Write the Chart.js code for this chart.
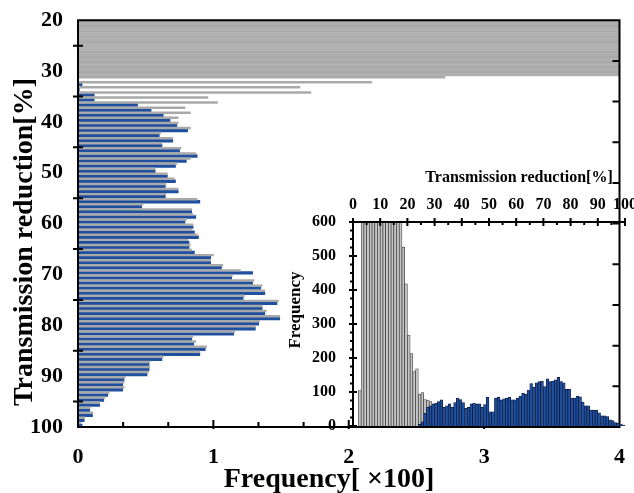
<!DOCTYPE html>
<html>
<head>
<meta charset="utf-8">
<script src="https://cdn.jsdelivr.net/npm/chart.js@4.4.0/dist/chart.umd.min.js"></script>
<style>
    html, body { margin: 0; padding: 0; background: #fff; overflow: hidden; }
    #quadro { position: relative; width: 634px; height: 493px; }
    #principal { position: absolute; left: 0; top: 0; }
    #detalhe { position: absolute; left: 280px; top: 160px; }
</style>
</head>
<body>
<div id="quadro">
    <canvas id="principal" width="634" height="493"></canvas>
    <canvas id="detalhe" width="380" height="333"></canvas>
</div>
<script>
// gráfico principal: faixas de 1% da redução de transmissão
const faixasPrincipal = [
    20, 21, 22, 23, 24, 25, 26, 27, 28, 29, 30, 31, 32, 33, 34, 35, 36, 37, 38, 39,
    40, 41, 42, 43, 44, 45, 46, 47, 48, 49, 50, 51, 52, 53, 54, 55, 56, 57, 58, 59,
    60, 61, 62, 63, 64, 65, 66, 67, 68, 69, 70, 71, 72, 73, 74, 75, 76, 77, 78, 79,
    80, 81, 82, 83, 84, 85, 86, 87, 88, 89, 90, 91, 92, 93, 94, 95, 96, 97, 98, 99
];
// frequência [x100]; as faixas 20-30 passam do limite do eixo
const freqCinzaPrincipal = [
    5, 5, 5, 5, 5, 5, 5, 5, 5, 5, 5,
    2.71, 2.17, 1.64, 1.72, 0.96, 1.03, 0.79, 0.83, 0.74, 0.74,
    0.83, 0.61, 0.70, 0.62, 0.76, 0.87, 0.83, 0.73, 0.57, 0.66,
    0.71, 0.65, 0.74, 0.65, 0.88, 0.48, 0.84, 0.85, 0.80, 0.85,
    0.84, 0.88, 0.81, 0.83, 0.84, 1.00, 0.98, 1.07, 1.20, 1.14,
    1.30, 1.36, 1.38, 1.23, 1.48, 1.36, 1.39, 1.49, 1.34, 1.31,
    1.16, 0.85, 0.87, 0.95, 0.90, 0.63, 0.53, 0.53, 0.52, 0.35,
    0.34, 0.34, 0.23, 0.20, 0.16, 0.09, 0.11, 0.05, 0.02
];
const freqAzulPrincipal = [
    5, 5, 5, 5, 5, 5, 5, 5, 5, 5, 5,
    0, 0.03, 0.01, 0.12, 0.12, 0.44, 0.54, 0.63, 0.68, 0.73,
    0.81, 0.60, 0.70, 0.62, 0.75, 0.88, 0.80, 0.72, 0.57, 0.66,
    0.72, 0.645, 0.74, 0.645, 0.90, 0.47, 0.84, 0.87, 0.79, 0.85,
    0.86, 0.89, 0.82, 0.82, 0.86, 0.98, 0.98, 1.06, 1.29, 1.135,
    1.29, 1.35, 1.38, 1.22, 1.47, 1.36, 1.38, 1.49, 1.335, 1.31,
    1.15, 0.84, 0.855, 0.94, 0.90, 0.62, 0.525, 0.525, 0.51, 0.34,
    0.33, 0.33, 0.22, 0.19, 0.16, 0.087, 0.107, 0.046, 0.03
];
const limiteCinza = 31; // abaixo desta faixa as duas séries aparecem em cinza

// detalhe: histograma vertical
const faixasCinzaDetalhe = [
    2, 3, 4, 5, 6, 7, 8, 9, 10, 11, 12, 13, 14, 15, 16, 17, 18, 19, 20, 21,
    22, 23, 24, 25, 26, 27, 28
];
const freqCinzaDetalhe = [
    106, 700, 700, 700, 700, 700, 700, 700, 700, 700, 700, 700, 700, 700, 700, 700,
    526, 418, 267, 213, 160, 168, 94, 98, 78, 76, 72
];
const faixasAzulDetalhe = [
    24, 25, 26, 27, 28, 29, 30, 31, 32, 33, 34, 35, 36, 37, 38, 39,
    40, 41, 42, 43, 44, 45, 46, 47, 48, 49, 50, 51, 52, 53, 54, 55, 56, 57, 58, 59,
    60, 61, 62, 63, 64, 65, 66, 67, 68, 69, 70, 71, 72, 73, 74, 75, 76, 77, 78, 79,
    80, 81, 82, 83, 84, 85, 86, 87, 88, 89, 90, 91, 92, 93, 94, 95, 96, 97, 98, 99
];
const freqAzulDetalhe = [
    5, 12, 37, 55, 59, 65,
    67, 72, 77, 55, 59, 65, 55, 69, 82, 78,
    69, 52, 55, 65, 67, 65, 65, 55, 63, 84,
    42, 42, 82, 84, 77, 80, 82, 84, 77, 77,
    82, 88, 96, 94, 106, 125, 114, 127, 131, 132,
    116, 139, 131, 132, 136, 143, 131, 127, 108, 108,
    82, 82, 88, 86, 70, 59, 59, 47, 47, 47,
    39, 30, 30, 28, 18, 16, 10, 8, 6, 3
];

// rótulos dos eixos
const marcasFrequencia = [0, 1, 2, 3, 4];
const marcasReducao = [20, 30, 40, 50, 60, 70, 80, 90, 100];
const marcasReducaoDetalhe = [0, 10, 20, 30, 40, 50, 60, 70, 80, 90, 100];
const marcasFreqDetalhe = [0, 100, 200, 300, 400, 500, 600];

const tituloY = "Transmission reduction[%]";
const tituloX = "Frequency[ ×100]";
const tituloYDetalhe = "Frequency";
const tituloXDetalhe = "Transmission reduction[%]";

const AZUL = "#1f4f9f";
const CINZA = "#a9a9a9";
const FAMILIA = "'Liberation Serif', 'Times New Roman', serif";

const moldura = {
    id: "moldura",
    afterDatasetsDraw(chart, args, opcoes) {
        const ctx = chart.ctx;
        const area = chart.chartArea;
        ctx.save();
        ctx.strokeStyle = "#000";
        ctx.lineWidth = 2;

        ctx.beginPath();
        for (const lado of opcoes.lados) {
            if (lado == "top") { ctx.moveTo(area.left - 1, area.top); ctx.lineTo(area.right + 1, area.top); }
            if (lado == "bottom") { ctx.moveTo(area.left - 1, area.bottom); ctx.lineTo(area.right + 1, area.bottom); }
            if (lado == "left") { ctx.moveTo(area.left, area.top - 1); ctx.lineTo(area.left, area.bottom + 1); }
            if (lado == "right") { ctx.moveTo(area.right, area.top - 1); ctx.lineTo(area.right, area.bottom + 1); }
        }
        ctx.stroke();

        for (const m of opcoes.marcas) {
            const escala = chart.scales[m.escala];
            ctx.beginPath();
            for (const v of m.valores) {
                const p = escala.getPixelForValue(v);
                if (m.lado == "bottom") { ctx.moveTo(p, area.bottom + m.fora); ctx.lineTo(p, area.bottom - m.dentro); }
                if (m.lado == "top") { ctx.moveTo(p, area.top - m.fora); ctx.lineTo(p, area.top + m.dentro); }
                if (m.lado == "left") { ctx.moveTo(area.left - m.fora, p); ctx.lineTo(area.left + m.dentro, p); }
                if (m.lado == "right") { ctx.moveTo(area.right + m.fora, p); ctx.lineTo(area.right - m.dentro, p); }
            }
            ctx.stroke();
        }

        ctx.fillStyle = "#000";
        for (const t of opcoes.titulos) {
            ctx.save();
            ctx.font = t.fonte;
            ctx.textAlign = "center";
            ctx.textBaseline = "alphabetic";
            ctx.translate(t.x, t.y);
            if (t.vertical) ctx.rotate(-Math.PI / 2);
            ctx.fillText(t.texto, 0, 0);
            ctx.restore();
        }
        ctx.restore();
    }
};

window.onload = aoCarregarPagina;

function aoCarregarPagina() {
    criarGraficoPrincipal(document.querySelector("#principal"));
    criarGraficoDetalhe(document.querySelector("#detalhe"));
}

function criarGraficoPrincipal(ctx) {
    const terços = [];
    for (let k = 1; k < 12; k++) {
        if (k % 3 != 0) terços.push(k / 3);
    }

    return new Chart(ctx, {
        type: "bar",
        plugins: [moldura],
        data: {
            datasets: [
                {
                    // linha cinza fina na parte de cima de cada faixa
                    data: faixasPrincipal.map((f, i) => ({ x: freqCinzaPrincipal[i], y: f + 0.2 })),
                    backgroundColor: CINZA,
                    borderWidth: 0,
                    barThickness: 1.8
                },
                {
                    data: faixasPrincipal.map((f, i) => ({ x: freqAzulPrincipal[i], y: f + 0.69 })),
                    backgroundColor: faixasPrincipal.map(f => f < limiteCinza ? "#b0b0b0" : AZUL),
                    borderWidth: 0,
                    barThickness: 2.8
                }
            ]
        },
        options: {
            indexAxis: "y",
            responsive: false,
            animation: false,
            devicePixelRatio: 1,
            grouped: false,
            layout: { padding: { top: 18, right: 6, left: 0, bottom: 0 } },
            plugins: {
                legend: { display: false },
                tooltip: { enabled: false },
                moldura: {
                    lados: ["top", "bottom", "left", "right"],
                    marcas: [
                        { escala: "y", lado: "left", valores: [25, 35, 45, 55, 65, 75, 85, 95], dentro: 5, fora: 5 },
                        { escala: "y", lado: "right", valores: [28, 36, 44, 52, 60, 68, 76, 84, 92], dentro: 7, fora: 0 },
                        { escala: "x", lado: "bottom", valores: terços, dentro: 5, fora: 0 },
                        { escala: "x", lado: "bottom", valores: [1, 2, 3], dentro: 7, fora: 2 }
                    ],
                    titulos: [
                        { texto: tituloY, x: 32, y: 242, vertical: true, fonte: "bold 28px " + FAMILIA },
                        { texto: tituloX, x: 329, y: 487, vertical: false, fonte: "bold 28px " + FAMILIA }
                    ]
                }
            },
            scales: {
                x: {
                    type: "linear",
                    min: 0,
                    max: 4,
                    afterBuildTicks: escala => { escala.ticks = marcasFrequencia.map(v => ({ value: v })); },
                    afterFit: escala => { escala.height = 66; },
                    grid: { display: false },
                    border: { display: false },
                    ticks: { color: "#000", padding: 9, font: { family: FAMILIA, weight: "bold", size: 22 } }
                },
                y: {
                    type: "linear",
                    min: 20,
                    max: 100,
                    reverse: true,
                    offset: false,
                    afterBuildTicks: escala => { escala.ticks = marcasReducao.map(v => ({ value: v })); },
                    afterFit: escala => { escala.width = 78; },
                    grid: { display: false },
                    border: { display: false },
                    ticks: { color: "#000", padding: 7, font: { family: FAMILIA, weight: "bold", size: 22 } }
                }
            }
        }
    });
}

function criarGraficoDetalhe(ctx) {
    const cincos = [];
    for (let v = 5; v < 100; v += 10) cincos.push(v);
    const quartos = [];
    for (let v = 25; v < 600; v += 25) {
        if (v % 100 != 0) quartos.push(v);
    }

    return new Chart(ctx, {
        type: "bar",
        plugins: [moldura],
        data: {
            datasets: [
                {
                    data: faixasAzulDetalhe.map((f, i) => ({ x: f + 0.5, y: freqAzulDetalhe[i] })),
                    backgroundColor: AZUL,
                    borderColor: "#0b1633",
                    borderWidth: 0.7,
                    order: 0
                },
                {
                    data: faixasCinzaDetalhe.map((f, i) => ({ x: f + 0.5, y: freqCinzaDetalhe[i] })),
                    backgroundColor: "#c4c4c4",
                    borderColor: "#3a3a3a",
                    borderWidth: 0.7,
                    order: 1
                }
            ]
        },
        options: {
            responsive: false,
            animation: false,
            devicePixelRatio: 1,
            grouped: false,
            barPercentage: 1,
            categoryPercentage: 1,
            layout: { padding: { top: 0, right: 35, left: 0, bottom: 67 } },
            plugins: {
                legend: { display: false },
                tooltip: { enabled: false },
                moldura: {
                    lados: ["top", "left"],
                    marcas: [
                        { escala: "x", lado: "top", valores: marcasReducaoDetalhe, dentro: 4, fora: 4 },
                        { escala: "x", lado: "top", valores: cincos, dentro: 3, fora: 0 },
                        { escala: "y", lado: "left", valores: marcasFreqDetalhe, dentro: 4, fora: 4 },
                        { escala: "y", lado: "left", valores: quartos, dentro: 0, fora: 3 }
                    ],
                    titulos: [
                        { texto: tituloYDetalhe, x: 20, y: 150, vertical: true, fonte: "bold 17px " + FAMILIA },
                        { texto: tituloXDetalhe, x: 239, y: 22, vertical: false, fonte: "bold 16px " + FAMILIA }
                    ]
                }
            },
            scales: {
                x: {
                    type: "linear",
                    position: "top",
                    min: 0,
                    max: 100,
                    offset: false,
                    afterBuildTicks: escala => { escala.ticks = marcasReducaoDetalhe.map(v => ({ value: v })); },
                    afterFit: escala => { escala.height = 62; },
                    grid: { display: false },
                    border: { display: false },
                    ticks: { color: "#000", padding: 0, maxRotation: 0, font: { family: FAMILIA, weight: "bold", size: 16 } }
                },
                y: {
                    type: "linear",
                    min: 0,
                    max: 600,
                    afterBuildTicks: escala => { escala.ticks = marcasFreqDetalhe.map(v => ({ value: v })); },
                    afterFit: escala => { escala.width = 73; },
                    grid: { display: false },
                    border: { display: false },
                    ticks: { color: "#000", padding: 9, font: { family: FAMILIA, weight: "bold", size: 16 } }
                }
            }
        }
    });
}
</script>
</body>
</html>
